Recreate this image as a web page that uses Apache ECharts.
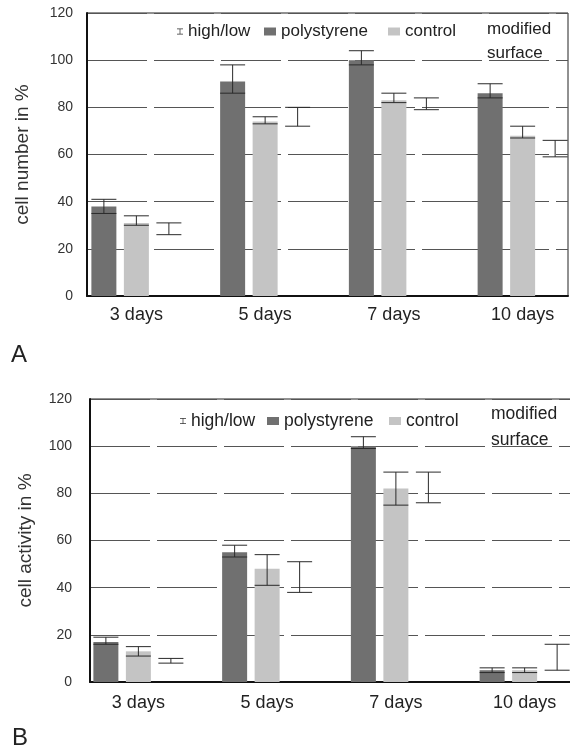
<!DOCTYPE html>
<html><head><meta charset="utf-8">
<script src="https://cdn.jsdelivr.net/npm/echarts@6/dist/echarts.min.js"></script>
<style>html,body{margin:0;padding:0;background:#fff}#c{width:570px;height:751px}</style>
</head><body><div id="c"></div>
<script>
// ---- data ----
const categories = ['3 days', '5 days', '7 days', '10 days'];
const yTicks = [0, 20, 40, 60, 80, 100, 120];
// Panel A: cell number in %
const aPoly     = [38, 91, 100, 86];
const aPolyHigh = [41, 98, 104, 90];
const aPolyLow  = [35, 86, 98, 84];
const aCtrl     = [31, 74, 83, 68];
const aCtrlHigh = [34, 76, 86, 72];
const aCtrlLow  = [30, 73, 82, 67];
const aMod      = [28, 76, 82, 62];
const aModHigh  = [31, 80, 84, 66];
const aModLow   = [26, 72, 79, 59];
// Panel B: cell activity in %
const bPoly     = [17, 55, 100, 5];
const bPolyHigh = [19, 58, 104, 6];
const bPolyLow  = [16, 53, 99, 4];
const bCtrl     = [13, 48, 82, 5];
const bCtrlHigh = [15, 54, 89, 6];
const bCtrlLow  = [11, 41, 75, 4];
const bMod      = [9, 45, 82, 10];
const bModHigh  = [10, 51, 89, 16];
const bModLow   = [8, 38, 76, 5];

// ---- styles ----
const FONT = '"Liberation Sans", Arial, sans-serif';
const BAR_W = 25, BAR_GAP = '30%', CAP = 25;
const COL_POLY = '#707070', COL_CTRL = '#c4c4c4';

const chart = echarts.init(document.getElementById('c'));

function errRender(params, api) {
  const ci = api.value(0), lo = api.value(1), hi = api.value(2), si = api.value(3);
  const layouts = api.barLayout({ barWidth: BAR_W, barGap: BAR_GAP, count: 3 });
  const off = layouts[si].offsetCenter;
  const p1 = api.coord([ci, hi]);
  const p2 = api.coord([ci, lo]);
  const x = p1[0] + off;
  const hw = CAP / 2;
  const st = { stroke: '#2a2a2a', lineWidth: 1 };
  return { type: 'group', children: [
    { type: 'line', shape: { x1: x - hw, y1: p1[1], x2: x + hw, y2: p1[1] }, style: st },
    { type: 'line', shape: { x1: x, y1: p1[1], x2: x, y2: p2[1] }, style: st },
    { type: 'line', shape: { x1: x - hw, y1: p2[1], x2: x + hw, y2: p2[1] }, style: st }
  ]};
}
function errData(lows, highs) {
  const out = [];
  lows.forEach((l, si) => categories.forEach((c, ci) => out.push([ci, l[ci], highs[si][ci], si])));
  return out;
}

const panels = [
  { frameLeft: 87, frameRight: 568, barLeft: 72, top: 13, name: 'cell number in %', labelMargin: 14, xMargin: 10,
    poly: aPoly, ctrl: aCtrl, mod: aMod,
    lows: [aPolyLow, aCtrlLow, aModLow], highs: [aPolyHigh, aCtrlHigh, aModHigh] },
  { frameLeft: 90, frameRight: 572, barLeft: 74, top: 399, name: 'cell activity in %', labelMargin: 18, xMargin: 12,
    poly: bPoly, ctrl: bCtrl, mod: bMod,
    lows: [bPolyLow, bCtrlLow, bModLow], highs: [bPolyHigh, bCtrlHigh, bModHigh] }
];
const PLOT_H = 283;

const grid = [], xAxis = [], yAxis = [], series = [];
panels.forEach((p, k) => {
  const gFrame = grid.length;
  grid.push({ left: p.frameLeft, top: p.top, width: p.frameRight - p.frameLeft, height: PLOT_H,
              outerBoundsMode: 'none', containLabel: false,
              show: true, borderColor: '#222', borderWidth: 1, backgroundColor: 'transparent' });
  const gBar = grid.length;
  grid.push({ left: p.barLeft, top: p.top, width: 515, height: PLOT_H, outerBoundsMode: 'none', containLabel: false });
  xAxis.push({ gridIndex: gFrame, type: 'value', min: 0, max: 1, axisLabel: { show: false },
               axisTick: { show: false }, splitLine: { show: false },
               axisLine: { show: true, lineStyle: { color: '#111', width: 2 } } });
  yAxis.push({ gridIndex: gFrame, type: 'value', min: yTicks[0], max: yTicks[yTicks.length - 1], interval: 20,
               name: p.name, nameLocation: 'middle', nameGap: 55, nameRotate: 90,
               nameTextStyle: { fontFamily: FONT, fontSize: 19, color: '#333' },
               axisLine: { show: true, lineStyle: { color: '#111', width: 2 } }, axisTick: { show: false },
               axisLabel: { fontFamily: FONT, fontSize: 14, color: '#333', margin: p.labelMargin },
               splitLine: { show: true, lineStyle: { color: '#555', width: 1, type: [60, 7] } } });
  xAxis.push({ gridIndex: gBar, type: 'category', data: categories,
               axisLine: { show: false }, axisTick: { show: false },
               axisLabel: { fontFamily: FONT, fontSize: 18, color: '#222', margin: p.xMargin } });
  const yb = yAxis.length;
  yAxis.push({ gridIndex: gBar, type: 'value', min: yTicks[0], max: yTicks[yTicks.length - 1], show: false });
  const xb = xAxis.length - 1;
  series.push({ name: 'polystyrene', type: 'bar', xAxisIndex: xb, yAxisIndex: yb, data: p.poly,
                barWidth: BAR_W, barGap: BAR_GAP, itemStyle: { color: COL_POLY } });
  series.push({ name: 'control', type: 'bar', xAxisIndex: xb, yAxisIndex: yb, data: p.ctrl,
                barWidth: BAR_W, barGap: BAR_GAP, itemStyle: { color: COL_CTRL } });
  series.push({ name: 'modified surface', type: 'bar', xAxisIndex: xb, yAxisIndex: yb, data: p.mod,
                barWidth: BAR_W, barGap: BAR_GAP, itemStyle: { color: 'rgba(255,255,255,0)' } });
  series.push({ name: 'high/low', type: 'custom', xAxisIndex: xb, yAxisIndex: yb, z: 5,
                itemStyle: { color: '#333' }, renderItem: errRender,
                encode: { x: 0, y: [1, 2] }, data: errData(p.lows, p.highs) });
});

const errIcon = 'path://M0,0h10v1.2h-10z M4.4,1.2h1.2v7.6h-1.2z M0,8.8h10v1.2h-10z';
const legend = [];
// [top, highlow left, poly left, ctrl left, modified left, modified top, fontSize, modified lineHeight]
[[18, 172, 259, 383, 477, 12, 17, 24], [407, 175, 262, 384, 481, 396, 17.5, 26]].forEach(pos => {
  const top = pos[0];
  const legTxt = { fontFamily: FONT, fontSize: pos[6], color: '#222' };
  legend.push({ data: [{ name: 'high/low', icon: errIcon }], left: pos[1], top: top, itemWidth: 6, itemHeight: 9,
                itemGap: 0, textStyle: legTxt, selectedMode: false });
  legend.push({ data: [{ name: 'polystyrene', icon: 'rect' }], left: pos[2], top: top, itemWidth: 12, itemHeight: 8,
                textStyle: legTxt, selectedMode: false });
  legend.push({ data: [{ name: 'control', icon: 'rect' }], left: pos[3], top: top, itemWidth: 12, itemHeight: 8,
                textStyle: legTxt, selectedMode: false });
  legend.push({ data: [{ name: 'modified surface', icon: 'none' }], left: pos[4], top: pos[5], itemWidth: 0, itemHeight: 0,
                textStyle: Object.assign({}, legTxt, { lineHeight: pos[7] }), selectedMode: false,
                formatter: () => 'modified\nsurface' });
});

chart.setOption({
  animation: false,
  backgroundColor: '#fff',
  grid, xAxis, yAxis, series, legend,
  graphic: [
    { type: 'text', left: 11, top: 343, style: { text: 'A', font: '24px ' + FONT, fill: '#222' } },
    { type: 'text', left: 12, top: 726, style: { text: 'B', font: '24px ' + FONT, fill: '#222' } }
  ]
});
</script></body></html>
